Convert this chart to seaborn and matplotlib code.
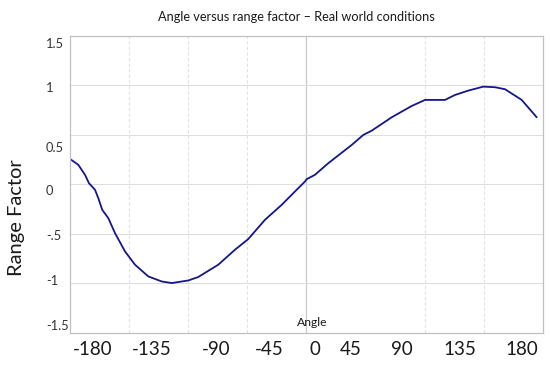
import matplotlib
matplotlib.use("Agg")
import matplotlib.pyplot as plt
import seaborn as sns
import pandas as pd

# Data
angle = [-180.0, -173.3, -168.2, -165.2, -160.6, -158.1, -155.1, -150.5, -145.4,
         -137.8, -130.2, -120.1, -109.9, -102.3, -89.7, -82.1, -66.9, -54.2,
         -44.1, -31.4, -18.7, -7.3, -1.0, 0.3, 6.6, 16.8, 34.6, 43.4, 49.8,
         65.0, 80.2, 90.3, 105.5, 113.1, 123.2, 134.6, 143.5, 151.1, 163.8, 175.2]
range_factor = [0.26, 0.197, 0.096, 0.012, -0.055, -0.139, -0.257, -0.341, -0.492,
                -0.677, -0.811, -0.929, -0.980, -0.996, -0.970, -0.935, -0.811, -0.660,
                -0.552, -0.358, -0.207, -0.055, 0.028, 0.052, 0.096, 0.214, 0.398, 0.499, 0.542,
                0.677, 0.791, 0.852, 0.852, 0.902, 0.946, 0.986, 0.980, 0.960, 0.852, 0.677]

x_tick_labels = ["-180", "-135", "-90", "-45", "0", "45", "90", "135", "180"]
y_tick_labels = ["1.5", "1", "0.5", "0", "-.5", "-1", "-1.5"]

# Layout: where the (offset) tick labels sit, in data units
x_label_anchor = [-162.1, -117.3, -68.4, -28.1, 6.9, 33.9, 72.6, 116.5, 164.0]
y_label_anchor = [1.43, 0.986, 0.381, -0.056, -0.51, -0.963, -1.417]
x_grid = [-135, -90, -45, 90, 135]
y_grid = [-1.0, -0.5, 0.0, 0.5, 1.0]

df = pd.DataFrame({"Angle": angle, "Range Factor": range_factor})

sns.set_theme(style="white")
plt.rcParams["font.family"] = ["Lato", "DejaVu Sans"]

fig = plt.figure(figsize=(5.5, 3.67), dpi=100)
ax = fig.add_axes([69.5 / 550, 1 - 333 / 367, 473.5 / 550, 297.3 / 367])

sns.lineplot(data=df, x="Angle", y="Range Factor", ax=ax, color="#14168a",
             linewidth=1.3, sort=False)

ax.set_xlim(-180, 180)
ax.set_ylim(-1.5, 1.5)

# gridlines
for gx in x_grid:
    ax.axvline(gx, color="#e2e2e2", lw=0.8, ls=(0, (3, 2)), zorder=0)
ax.axvline(0, color="#c8c8c8", lw=0.9, zorder=0)
for gy in y_grid:
    ax.axhline(gy, color="#dedede", lw=0.8, zorder=0)

ax.set_xticks(x_label_anchor)
ax.set_xticklabels(x_tick_labels, fontsize=13.5, color="#1a1a1a")
ax.set_yticks(y_label_anchor)
ax.set_yticklabels(y_tick_labels, fontsize=9.3, color="#333333", ha="left")
ax.tick_params(axis="x", length=0, pad=6)
ax.tick_params(axis="y", length=0, pad=17)

for s in ax.spines.values():
    s.set_color("#c0c0c0")
    s.set_linewidth(0.9)

ax.set_xlabel("Angle", fontsize=8.7, color="#1a1a1a")
ax.xaxis.set_label_coords((312.5 - 69.5) / 473.5, (333 - 322.7) / 297.3)
ax.xaxis.label.set_va("center")

ax.set_ylabel("")
fig.text(17 / 550, 1 - 218 / 367, "Range Factor", rotation=90, fontsize=14.5,
         ha="center", va="center", color="#1a1a1a")

fig.text(296.4 / 550, 1 - 16.7 / 367, "Angle versus range factor – Real world conditions",
         fontsize=9.2, ha="center", va="center", color="#1a1a1a")

fig.savefig("out.png", dpi=100, facecolor="white")
